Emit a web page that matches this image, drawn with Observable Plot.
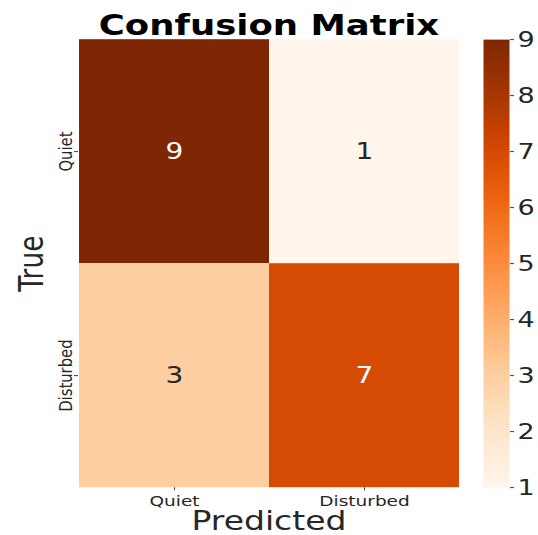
<!DOCTYPE html>
<html>
<head>
<meta charset="utf-8">
<script src="https://cdn.jsdelivr.net/npm/d3@7"></script>
<script src="https://cdn.jsdelivr.net/npm/@observablehq/plot@0.6"></script>
<style>
  body { margin: 0; background: #fff; }
  #chart { position: relative; width: 538px; height: 535px; overflow: hidden; background: #fff; }
  #chart svg { position: absolute; left: 0; top: 0; }
</style>
</head>
<body>
<div id="chart"></div>
<script>
// Class labels and counts of the confusion matrix
const predictedLabels = ["Quiet", "Disturbed"];
const trueLabels = ["Quiet", "Disturbed"];
const counts = [
  [9, 1],
  [3, 7]
];
// Colour bar range and ticks
const colorDomain = [1, 9];
const colorTicks = [1, 2, 3, 4, 5, 6, 7, 8, 9];

const W = 538, H = 535;
const SQUASH = 0.8;              // figure is drawn taller, then squeezed vertically
const HI = H / SQUASH;           // internal drawing height
const FONT = "DejaVu Sans";
const INK = "#262626";

const cells = trueLabels.flatMap((t, i) =>
  predictedLabels.map((p, j) => ({ actual: t, predicted: p, count: counts[i][j] }))
);

const color = { type: "linear", scheme: "oranges", domain: colorDomain };

const frame = { left: 78, right: W - 459, top: 49, bottom: HI - 609 };

function squeeze(svg) {
  svg.setAttribute("preserveAspectRatio", "none");
  svg.setAttribute("height", H);
  svg.style.width = W + "px";
  svg.style.height = H + "px";
  svg.style.maxWidth = "none";
  return svg;
}

const heatmap = Plot.plot({
  width: W,
  height: HI,
  marginLeft: frame.left,
  marginRight: frame.right,
  marginTop: frame.top,
  marginBottom: frame.bottom,
  style: { fontFamily: FONT, background: "transparent", color: INK },
  x: { domain: predictedLabels, padding: 0, label: null },
  y: { domain: trueLabels, padding: 0, label: null },
  color,
  marks: [
    Plot.cell(cells, { x: "predicted", y: "actual", fill: "count" }),
    Plot.text(cells, {
      x: "predicted", y: "actual", text: "count",
      fill: d => d.count >= 5 ? "white" : INK,
      fontSize: 28
    }),
    Plot.axisX({ tickSize: 4, tickPadding: 6, fontSize: 18.5, color: INK, label: null }),
    Plot.axisY({ tickSize: 4, tickPadding: 3, tickRotate: -90, fontSize: 18.5, color: INK, label: null }),
    // axis titles and chart title
    Plot.text(["Predicted"], {
      frameAnchor: "bottom", dy: 53, lineAnchor: "bottom", textAnchor: "middle",
      fontSize: 33, fill: INK
    }),
    Plot.text(["True"], {
      frameAnchor: "left", dx: -36, rotate: -90, lineAnchor: "bottom", textAnchor: "middle",
      fontSize: 33, fill: INK
    }),
    Plot.text(["Confusion Matrix"], {
      frameAnchor: "top", dy: -6, lineAnchor: "bottom", textAnchor: "middle",
      fontSize: 35.5, fontWeight: "bold", fill: "black"
    })
  ]
});

const colorbar = Plot.plot({
  width: W,
  height: HI,
  marginLeft: 483,
  marginRight: W - 509,
  marginTop: frame.top,
  marginBottom: frame.bottom,
  style: { fontFamily: FONT, background: "transparent", color: INK },
  x: { domain: [0, 1], axis: null },
  y: { domain: colorDomain, label: null },
  color,
  marks: [
    Plot.raster({
      x1: 0, x2: 1, y1: colorDomain[0], y2: colorDomain[1],
      width: 1, height: 400,
      fill: (x, y) => y
    }),
    Plot.axisY({ anchor: "right", ticks: colorTicks, tickSize: 4, tickPadding: 4, fontSize: 27, color: INK, label: null })
  ]
});

const chart = document.getElementById("chart");
chart.append(squeeze(heatmap), squeeze(colorbar));
</script>
</body>
</html>
